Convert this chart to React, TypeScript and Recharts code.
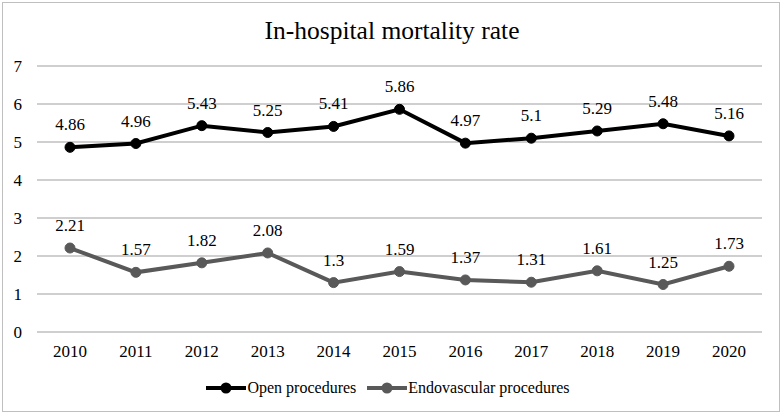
import React from "react";
import { LineChart, Line, XAxis, YAxis, CartesianGrid, Legend, LabelList } from "recharts";

const years = ["2010", "2011", "2012", "2013", "2014", "2015", "2016", "2017", "2018", "2019", "2020"];
const openProcedures = [4.86, 4.96, 5.43, 5.25, 5.41, 5.86, 4.97, 5.1, 5.29, 5.48, 5.16];
const endovascularProcedures = [2.21, 1.57, 1.82, 2.08, 1.3, 1.59, 1.37, 1.31, 1.61, 1.25, 1.73];
const yTicks = [0, 1, 2, 3, 4, 5, 6, 7];

const data = years.map((y, i) => ({ year: y, open: openProcedures[i], endo: endovascularProcedures[i] }));

const FONT = '"Liberation Serif", "Times New Roman", serif';
const OPEN_COLOR = "#000000";
const ENDO_COLOR = "#595959";

const LegendIcon = ({ color }: { color: string }) => (
  <svg width={40} height={14} style={{ display: "inline-block", verticalAlign: "middle", marginRight: 1 }}>
    <line x1={0} y1={7} x2={40} y2={7} stroke={color} strokeWidth={4} />
    <circle cx={20} cy={7} r={5.5} fill={color} />
  </svg>
);

const renderLegend = () => (
  <div
    style={{
      display: "flex",
      justifyContent: "center",
      alignItems: "center",
      fontFamily: FONT,
      fontSize: 16,
      color: "#000",
      lineHeight: "18px",
      paddingTop: 5,
      paddingLeft: 14,
    }}
  >
    <span style={{ display: "flex", alignItems: "center", marginRight: 11 }}>
      <LegendIcon color={OPEN_COLOR} />
      <span>Open procedures</span>
    </span>
    <span style={{ display: "flex", alignItems: "center" }}>
      <LegendIcon color={ENDO_COLOR} />
      <span>Endovascular procedures</span>
    </span>
  </div>
);

export default function App() {
  return (
    <div style={{ position: "absolute", left: 0, top: 0, width: 784, height: 416, background: "#fff" }}>
      <div
        style={{
          position: "absolute",
          left: 2,
          top: 2,
          width: 778,
          height: 410,
          border: "1.5px solid #bfbfbf",
          boxSizing: "border-box",
        }}
      />
      <div
        style={{
          position: "absolute",
          left: 0,
          top: 16,
          width: 784,
          textAlign: "center",
          fontFamily: FONT,
          fontSize: 25.5,
          color: "#000",
          lineHeight: "30px",
        }}
      >
        In-hospital mortality rate
      </div>
      <LineChart
        width={784}
        height={416}
        data={data}
        margin={{ top: 66, right: 22, left: 0, bottom: 12 }}
        style={{ position: "absolute", left: 0, top: 0 }}
      >
        <CartesianGrid vertical={false} stroke="#bfbfbf" strokeWidth={1.5} />
        <XAxis
          dataKey="year"
          axisLine={false}
          tickLine={false}
          tickSize={0}
          tickMargin={13}
          height={42}
          padding={{ left: 33, right: 33 }}
          tick={{ fontFamily: FONT, fontSize: 17, fill: "#000" }}
          interval={0}
        />
        <YAxis
          domain={[0, 7]}
          ticks={yTicks}
          axisLine={false}
          tickLine={false}
          tickSize={0}
          tickMargin={15}
          width={37}
          tick={{ fontFamily: FONT, fontSize: 17, fill: "#000" }}
        />
        <Legend verticalAlign="bottom" height={30} content={renderLegend} />
        <Line
          dataKey="open"
          stroke={OPEN_COLOR}
          strokeWidth={4}
          dot={{ r: 5, fill: OPEN_COLOR, stroke: OPEN_COLOR, strokeWidth: 1 }}
          isAnimationActive={false}
        >
          <LabelList dataKey="open" position="top" offset={17} style={{ fontFamily: FONT, fontSize: 17, fill: "#000" }} />
        </Line>
        <Line
          dataKey="endo"
          stroke={ENDO_COLOR}
          strokeWidth={4}
          dot={{ r: 5, fill: ENDO_COLOR, stroke: ENDO_COLOR, strokeWidth: 1 }}
          isAnimationActive={false}
        >
          <LabelList dataKey="endo" position="top" offset={17} style={{ fontFamily: FONT, fontSize: 17, fill: "#000" }} />
        </Line>
      </LineChart>
    </div>
  );
}
